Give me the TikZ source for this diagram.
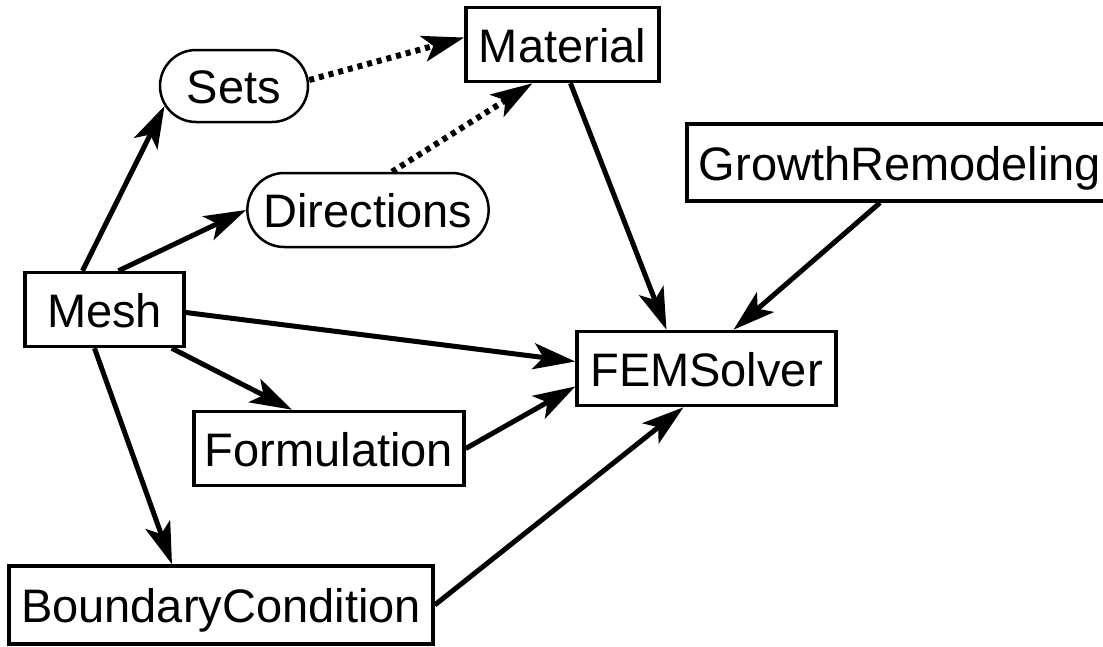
\documentclass[tikz,border=0pt]{standalone}
\usepackage{fontspec}
\setmainfont{Liberation Sans}
\usetikzlibrary{arrows.meta,shapes.misc}
\begin{document}
\begin{tikzpicture}[x=1pt, y=-1pt,
  font=\fontsize{47pt}{50pt}\selectfont,
  box/.style={draw, line width=3.5pt, minimum height=74pt, inner sep=5pt,
    text height=44pt, text depth=9pt},
  oval/.style={box, rounded rectangle, line width=2.5pt},
  arr/.style={line width=5pt, -{Stealth[length=42pt, width=26pt, inset=10pt]}},
  dotarr/.style={arr, line width=6pt, dash pattern=on 5pt off 5pt}]
\useasboundingbox (0,0) rectangle (1103,646);
% nodes
\node[box, minimum width=193pt] (mat) at (562.5,44.5) {Material};
\node[oval, minimum width=158pt, minimum height=72pt] (sets) at (234,86) {Sets};
\node[oval, minimum width=230pt] (dirs) at (368,210) {Directions};
\node[box, minimum width=426pt, minimum height=77pt] (growth) at (900,162.5) {GrowthRemodeling};
\node[box, minimum width=159pt] (mesh) at (104.5,309.5) {Mesh};
\node[box, minimum width=259pt] (fem) at (706.5,368.5) {FEMSolver};
\node[box, minimum width=270pt] (form) at (329,448.5) {Formulation};
\node[box, minimum width=424pt, minimum height=78pt] (bc) at (221,605) {BoundaryCondition};
% connectors
\draw[arr] ([xshift=-22pt]mesh.north) -- (sets.196);
\draw[arr] ([xshift=14pt]mesh.north) -- (dirs.west);
\draw[arr] ([yshift=-3pt]mesh.east) -- ([yshift=7pt]fem.west);
\draw[arr] ([xshift=-14pt]mesh.south east) -- ([xshift=-37pt]form.north);
\draw[arr] ([xshift=-10pt]mesh.south) -- ([xshift=-49pt]bc.north);
\draw[dotarr] ([yshift=6pt]sets.east) -- ([yshift=7pt]mat.west);
\draw[dotarr] ([xshift=24pt]dirs.north) -- ([xshift=-30pt]mat.south);
\draw[arr] ([xshift=8pt]mat.south) -- ([xshift=-40pt]fem.north);
\draw[arr] ([xshift=-20pt]growth.south) -- ([xshift=27pt]fem.north);
\draw[arr] (form.east) -- ([yshift=-18pt]fem.west);
\draw[arr] (bc.east) -- ([xshift=-23pt]fem.south);
\end{tikzpicture}
\end{document}
